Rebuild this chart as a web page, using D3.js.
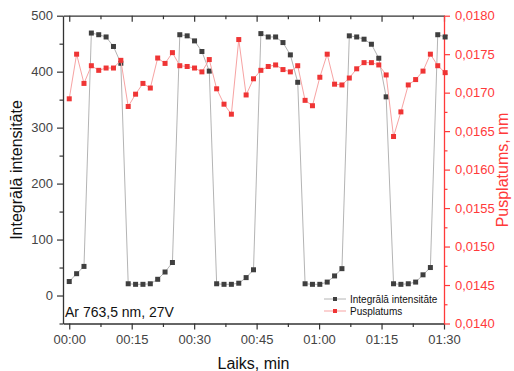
<!DOCTYPE html>
<html>
<head>
<meta charset="utf-8">
<script src="https://cdn.jsdelivr.net/npm/d3@7"></script>
<style>
  html, body { margin: 0; padding: 0; background: #fff; }
  svg { display: block; font-family: "Liberation Sans", Arial, sans-serif; }
</style>
</head>
<body>
<svg id="chart" width="514" height="371"></svg>
<script>
// Measurement times, minutes from start
const timeMin = [
  0, 1.77, 3.54, 5.31, 7.08, 8.85, 10.62, 12.39, 14.16, 15.93,
  17.70, 19.47, 21.24, 23.01, 24.78, 26.55, 28.32, 30.09, 31.86, 33.63,
  35.40, 37.17, 38.94, 40.71, 42.48, 44.25, 46.02, 47.79, 49.56, 51.33,
  53.10, 54.87, 56.64, 58.41, 60.18, 61.95, 63.72, 65.49, 67.26, 69.03,
  70.80, 72.57, 74.34, 76.11, 77.88, 79.65, 81.42, 83.19, 84.96, 86.73,
  88.50, 90.27
];

// Integrated line intensity (left axis)
const intensity = [
  25, 39, 52, 469, 466, 462, 445, 415, 21, 20,
  20, 21, 29, 42, 59, 466, 464, 455, 436, 401,
  21, 20, 20, 22, 32, 46, 468, 462, 462, 452,
  430, 381, 21, 20, 20, 24, 35, 48, 464, 462,
  458, 449, 424, 355, 21, 20, 21, 24, 37, 50,
  466, 462
];

// Line width at half maximum, nm (right axis)
const fwhm = [
  0.01692, 0.01750, 0.01712, 0.01735, 0.01729, 0.01732, 0.01732, 0.01742, 0.01682, 0.01698,
  0.01712, 0.01706, 0.01745, 0.01738, 0.01752, 0.01735, 0.01734, 0.01732, 0.01727, 0.01743,
  0.01705, 0.01685, 0.01672, 0.01769, 0.01697, 0.01718, 0.01729, 0.01734, 0.01736, 0.01730,
  0.01727, 0.01735, 0.01690, 0.01683, 0.01720, 0.01750, 0.01711, 0.01710, 0.01719, 0.01731,
  0.01739, 0.01739, 0.01736, 0.01723, 0.01643, 0.01675, 0.01710, 0.01717, 0.01728, 0.01750,
  0.01735, 0.01726
];

const xTicks = [0, 15, 30, 45, 60, 75, 90];
const xMinor = [7.5, 22.5, 37.5, 52.5, 67.5, 82.5];
const yLeftTicks = [0, 100, 200, 300, 400, 500];
const yLeftMinor = [-50, 50, 150, 250, 350, 450];
const yRightTicks = [0.0140, 0.0145, 0.0150, 0.0155, 0.0160, 0.0165, 0.0170, 0.0175, 0.0180];
const yRightMinor = [0.01425, 0.01475, 0.01525, 0.01575, 0.01625, 0.01675, 0.01725, 0.01775];

const seriesNames = ["Integrālā intensitāte", "Pusplatums"];
const annotation = "Ar 763,5 nm, 27V";

const box = { left: 63, right: 444, top: 15.7, bottom: 323.5 };
const grayLine = "#b4b4b4", grayMark = "#3f3f3f";
const redLine = "#f7a3a3", redMark = "#ef3535", redAxis = "#ff3a3a";
const tickText = "#444";

const svg = d3.select("#chart");

const x = d3.scaleLinear().domain([-1.5, 90]).range([box.left, box.right]);
const yL = d3.scaleLinear().domain([-50, 500]).range([box.bottom, box.top]);
const yR = d3.scaleLinear().domain([0.0140, 0.0180]).range([box.bottom, box.top]);

const pad = n => String(n).padStart(2, "0");
const hhmm = m => pad(Math.floor(m / 60)) + ":" + pad(Math.round(m % 60));
const comma = d3.format(".4f");

function styleAxis(g, color) {
  g.select(".domain").attr("stroke", color).attr("stroke-width", 1.3);
  g.selectAll(".tick line").attr("stroke", color).attr("stroke-width", 1.2);
}

// Bottom axis (outward ticks) + minor ticks
const gB = svg.append("g").attr("transform", `translate(0,${box.bottom})`)
  .call(d3.axisBottom(x).tickValues(xTicks).tickFormat(hhmm).tickSize(6).tickSizeOuter(0).tickPadding(5));
styleAxis(gB, "#333");
gB.selectAll("text").attr("fill", tickText).style("font-size", "13px");
svg.append("g").attr("transform", `translate(0,${box.bottom})`)
  .call(d3.axisBottom(x).tickValues(xMinor).tickFormat("").tickSize(3.5).tickSizeOuter(0))
  .call(g => { g.select(".domain").remove(); g.selectAll("line").attr("stroke", "#333").attr("stroke-width", 1.2); });

// Top axis (inward ticks, no labels)
const gT = svg.append("g").attr("transform", `translate(0,${box.top})`)
  .call(d3.axisBottom(x).tickValues(xTicks).tickFormat("").tickSize(6).tickSizeOuter(0));
styleAxis(gT, "#333");
svg.append("g").attr("transform", `translate(0,${box.top})`)
  .call(d3.axisBottom(x).tickValues(xMinor).tickFormat("").tickSize(3.5).tickSizeOuter(0))
  .call(g => { g.select(".domain").remove(); g.selectAll("line").attr("stroke", "#333").attr("stroke-width", 1.2); });

// Left axis
const gL = svg.append("g").attr("transform", `translate(${box.left},0)`)
  .call(d3.axisLeft(yL).tickValues(yLeftTicks).tickSize(6).tickSizeOuter(0).tickPadding(4));
styleAxis(gL, "#333");
gL.selectAll("text").attr("fill", tickText).style("font-size", "13px");
svg.append("g").attr("transform", `translate(${box.left},0)`)
  .call(d3.axisLeft(yL).tickValues(yLeftMinor).tickFormat("").tickSize(3.5).tickSizeOuter(0))
  .call(g => { g.select(".domain").remove(); g.selectAll("line").attr("stroke", "#333").attr("stroke-width", 1.2); });

// Right axis (red)
const gR = svg.append("g").attr("transform", `translate(${box.right},0)`)
  .call(d3.axisRight(yR).tickValues(yRightTicks).tickFormat(v => comma(v).replace(".", ","))
    .tickSize(6).tickSizeOuter(0).tickPadding(5));
styleAxis(gR, redAxis);
gR.selectAll("text").attr("fill", redAxis).style("font-size", "13px");
svg.append("g").attr("transform", `translate(${box.right},0)`)
  .call(d3.axisRight(yR).tickValues(yRightMinor).tickFormat("").tickSize(3.5).tickSizeOuter(0))
  .call(g => { g.select(".domain").remove(); g.selectAll("line").attr("stroke", redAxis).attr("stroke-width", 1.2); });

// Axis titles
svg.append("text").attr("x", (box.left + box.right) / 2).attr("y", 369)
  .attr("text-anchor", "middle").attr("fill", "#111").style("font-size", "16px").text("Laiks, min");
svg.append("text").attr("transform", `translate(22,170) rotate(-90)`)
  .attr("text-anchor", "middle").attr("fill", "#111").style("font-size", "16px").text("Integrālā intensitāte");
svg.append("text").attr("transform", `translate(508,170) rotate(-90)`)
  .attr("text-anchor", "middle").attr("fill", redAxis).style("font-size", "16px").text("Pusplatums, nm");

// Series
const idx = d3.range(timeMin.length);
const ms = 5;

const lineL = d3.line().x(i => x(timeMin[i])).y(i => yL(intensity[i]));
svg.append("path").attr("d", lineL(idx)).attr("fill", "none").attr("stroke", grayLine).attr("stroke-width", 1);
svg.append("g").selectAll("rect").data(idx).join("rect")
  .attr("x", i => x(timeMin[i]) - ms / 2).attr("y", i => yL(intensity[i]) - ms / 2)
  .attr("width", ms).attr("height", ms).attr("fill", grayMark);

const lineR = d3.line().x(i => x(timeMin[i])).y(i => yR(fwhm[i]));
svg.append("path").attr("d", lineR(idx)).attr("fill", "none").attr("stroke", redLine).attr("stroke-width", 1);
svg.append("g").selectAll("rect").data(idx).join("rect")
  .attr("x", i => x(timeMin[i]) - ms / 2).attr("y", i => yR(fwhm[i]) - ms / 2)
  .attr("width", ms).attr("height", ms).attr("fill", redMark);

// Annotation
svg.append("text").attr("x", 65).attr("y", 317).attr("fill", "#111")
  .style("font-size", "14px").text(annotation);

// Legend
const legend = [
  { name: seriesNames[0], line: grayLine, mark: grayMark, y: 299 },
  { name: seriesNames[1], line: redLine, mark: redMark, y: 311 }
];
const lg = svg.append("g");
legend.forEach(d => {
  lg.append("line").attr("x1", 324).attr("x2", 346).attr("y1", d.y).attr("y2", d.y)
    .attr("stroke", d.line).attr("stroke-width", 1);
  lg.append("rect").attr("x", 335 - 2).attr("y", d.y - 2).attr("width", 4).attr("height", 4).attr("fill", d.mark);
  lg.append("text").attr("x", 350).attr("y", d.y + 3.5).attr("fill", "#111")
    .style("font-size", "10px").text(d.name);
});
</script>
</body>
</html>
